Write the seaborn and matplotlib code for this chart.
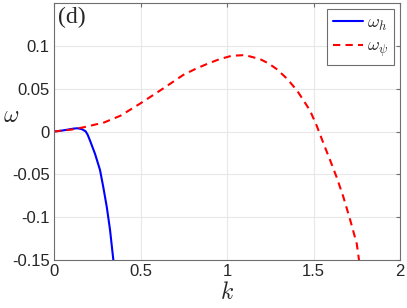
import matplotlib
matplotlib.use("Agg")
import matplotlib.pyplot as plt
import seaborn as sns
import numpy as np

# Data
k_h = [0, 0.04, 0.08, 0.11, 0.135, 0.16, 0.183, 0.195, 0.208, 0.222, 0.237, 0.25, 0.266, 0.285, 0.305, 0.324, 0.343]
w_h = [0, 0.0009, 0.0022, 0.0033, 0.0038, 0.0028, 0.0002, -0.004, -0.0105, -0.018, -0.026, -0.0345, -0.045,
       -0.065, -0.088, -0.115, -0.15]

k_psi = [0, 0.1, 0.173, 0.289, 0.385, 0.501, 0.622, 0.747, 0.815, 0.883, 0.955, 1.027, 1.104, 1.191, 1.24,
         1.287, 1.345, 1.403, 1.44, 1.48, 1.518, 1.557, 1.595, 1.634, 1.672, 1.711, 1.75, 1.763]
w_psi = [0, 0.0022, 0.005, 0.0105, 0.0185, 0.033, 0.049, 0.066, 0.0728, 0.0787, 0.0843, 0.0884, 0.0892,
         0.0845, 0.0795, 0.0729, 0.062, 0.0484, 0.037, 0.0244, 0.007, -0.0135, -0.033, -0.0535, -0.076,
         -0.1025, -0.131, -0.15]

x_ticks = [0, 0.5, 1, 1.5, 2]
x_tick_labels = ["0", "0.5", "1", "1.5", "2"]
y_ticks = [-0.15, -0.1, -0.05, 0, 0.05, 0.1]
y_tick_labels = ["-0.15", "-0.1", "-0.05", "0", "0.05", "0.1"]

sns.set_style("whitegrid")
plt.rcParams["font.family"] = ["Liberation Sans", "DejaVu Sans"]
plt.rcParams["mathtext.fontset"] = "cm"

fig = plt.figure(figsize=(4.07, 3.08), dpi=100)
ax = fig.add_axes([54 / 407, 48 / 308, 346 / 407, 257 / 308])

sns.lineplot(x=k_h, y=w_h, ax=ax, color="#0000ff", linewidth=1.5, label=r"$\omega_h$", sort=False)
sns.lineplot(x=k_psi, y=w_psi, ax=ax, color="#ff0000", linewidth=1.5, linestyle=(0, (3.5, 2.5)),
             label=r"$\omega_\psi$", sort=False)

ax.set_xlim(0, 2)
ax.set_ylim(-0.15, 0.15)
ax.set_xticks(x_ticks)
ax.set_xticklabels(x_tick_labels)
ax.set_yticks(y_ticks)
ax.set_yticklabels(y_tick_labels)

ax.grid(True, color="#e8e8e8", linewidth=0.8)
for s in ax.spines.values():
    s.set_visible(True)
    s.set_color("#6e6e6e")
    s.set_linewidth(0.8)
ax.tick_params(direction="in", top=True, right=True, length=3, width=0.8, color="#6e6e6e",
               labelsize=12, labelcolor="#262626", pad=3)

ax.set_xlabel(r"$k$", fontsize=17, va="center")
ax.xaxis.set_label_coords(0.5, -0.13)
ax.set_ylabel(r"$\omega$", fontsize=17, rotation=0, va="center", ha="center")
ax.yaxis.set_label_coords(-0.125, 0.56)

ax.text(0.012, 0.985, "(d)", transform=ax.transAxes, ha="left", va="top",
        fontsize=17, family=["Liberation Serif", "DejaVu Serif"])

leg = ax.legend(loc="upper right", fontsize=13, frameon=True, fancybox=False, framealpha=1,
                edgecolor="#6e6e6e", handlelength=1.7, handletextpad=0.2, borderpad=0.3,
                labelspacing=0.3, borderaxespad=0.35)
leg.get_frame().set_linewidth(0.8)

fig.savefig("out.png", dpi=100)
